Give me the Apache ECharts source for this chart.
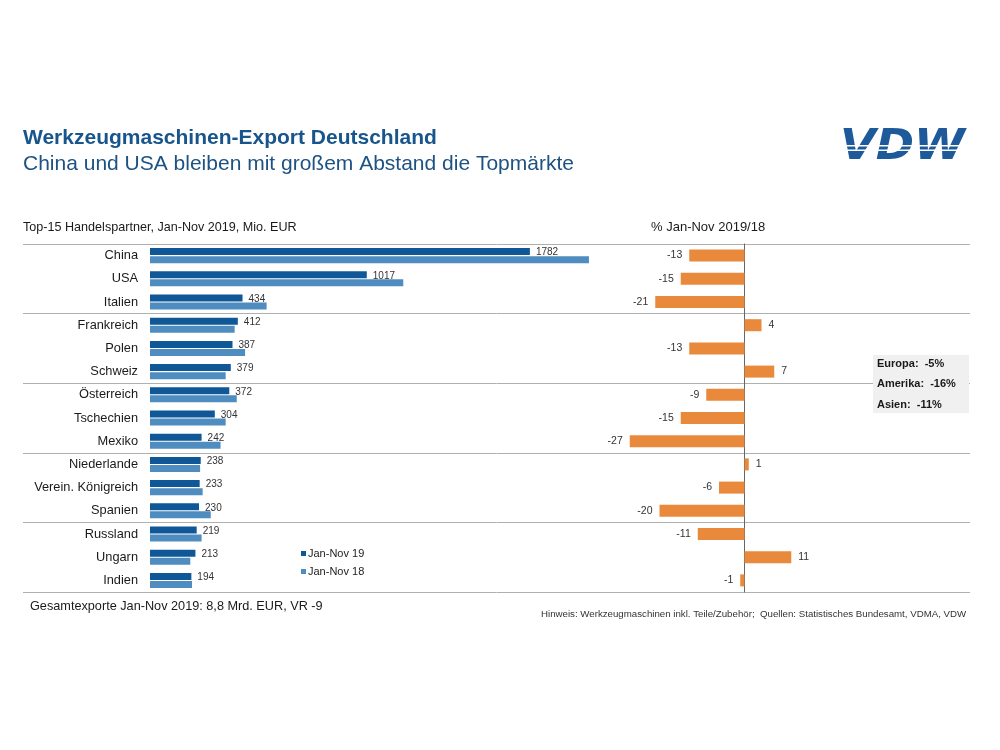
<!DOCTYPE html>
<html>
<head>
<meta charset="utf-8">
<script src="https://cdn.jsdelivr.net/npm/echarts@6/dist/echarts.min.js"></script>
<style>html,body{margin:0;padding:0;background:#fff}#c{width:1000px;height:750px}</style>
</head>
<body>
<div id="c"></div>
<script>
const categories = ['China','USA','Italien','Frankreich','Polen','Schweiz','Österreich','Tschechien','Mexiko','Niederlande','Verein. Königreich','Spanien','Russland','Ungarn','Indien'];
const export2019 = [1782,1017,434,412,387,379,372,304,242,238,233,230,219,213,194];
const export2018 = [2059,1188,547,397,446,355,407,355,331,235,247,285,242,189,197];
const change = [-13,-15,-21,4,-13,7,-9,-15,-27,1,-6,-20,-11,11,-1];
const regionNotes = ['Europa:  -5%','Amerika:  -16%','Asien:  -11%'];
const separatorTicks = {min:0, max:15, interval:3};

const FONT = 'Liberation Sans, Arial, sans-serif';
const chart = echarts.init(document.getElementById('c'), null, {renderer:'canvas'});

const option = {
  backgroundColor:'#fff',
  animation:false,
  textStyle:{fontFamily:FONT},
  grid:[
    {left:150, top:244, width:469, height:348},
    {left:617, top:244, width:255, height:348},
    {left:23, top:244, width:947, height:348}
  ],
  xAxis:[
    {gridIndex:0, type:'value', min:0, max:2200, show:false},
    {gridIndex:1, type:'value', min:-30, max:30, show:false},
    {gridIndex:2, type:'value', min:0, max:1, show:false}
  ],
  yAxis:[
    {gridIndex:0, type:'category', data:categories, inverse:true,
     axisLine:{show:false}, axisTick:{show:false},
     axisLabel:{margin:12, fontSize:12.8, color:'#1a1a1a', fontFamily:FONT}},
    {gridIndex:1, type:'category', data:categories, inverse:true,
     axisLine:{show:true, onZero:true, lineStyle:{color:'#666', width:1}}, axisTick:{show:false},
     axisLabel:{show:false}},
    {gridIndex:2, type:'value', inverse:true, min:separatorTicks.min, max:separatorTicks.max, interval:separatorTicks.interval,
     axisLine:{show:false}, axisTick:{show:false}, axisLabel:{show:false},
     splitLine:{show:true, lineStyle:{color:'#b0b0b0', width:1}}}
  ],
  legend:{
    data:['Jan-Nov 19','Jan-Nov 18'], orient:'vertical', left:296, top:543,
    itemWidth:5, itemHeight:5, itemGap:7, icon:'rect',
    textStyle:{fontSize:11, color:'#222', fontFamily:FONT, padding:[0,0,0,-3]}
  },
  series:[
    {name:'Jan-Nov 19', type:'bar', xAxisIndex:0, yAxisIndex:0, data:export2019,
     barWidth:7, barGap:'15%', itemStyle:{color:'#0f5796'},
     label:{show:true, position:'right', distance:6, offset:[0,1], fontSize:10, color:'#333', fontFamily:FONT}},
    {name:'Jan-Nov 18', type:'bar', xAxisIndex:0, yAxisIndex:0, data:export2018,
     barWidth:7, barGap:'15%', itemStyle:{color:'#4f8cc0'}},
    {name:'Veränderung', type:'bar', xAxisIndex:1, yAxisIndex:1, data:change,
     barWidth:12, itemStyle:{color:'#e8893c'},
     label:{show:true, position:'right', distance:7, fontSize:10.5, color:'#333', fontFamily:FONT,
       formatter:p=>String(p.value)}}
  ],
  graphic:[
    {type:'text', left:23, top:128, style:{text:'Werkzeugmaschinen-Export Deutschland', font:'bold 21px '+FONT, fill:'#17558c'}},
    {type:'text', left:23, top:154, style:{text:'China und USA bleiben mit großem Abstand die Topmärkte', font:'21px '+FONT, fill:'#1d5282'}},
    {type:'text', left:23, top:221, style:{text:'Top-15 Handelspartner, Jan-Nov 2019, Mio. EUR', font:'12.6px '+FONT, fill:'#1a1a1a'}},
    {type:'text', left:651, top:221, style:{text:'% Jan-Nov 2019/18', font:'13px '+FONT, fill:'#1a1a1a'}},
    {type:'rect', shape:{x:873, y:355, width:96, height:58}, style:{fill:'#f0f0f0'}, z:10},
    {type:'text', left:877, top:358, z:11, style:{text:regionNotes[0], font:'bold 11px '+FONT, fill:'#1a1a1a'}},
    {type:'text', left:877, top:378, z:11, style:{text:regionNotes[1], font:'bold 11px '+FONT, fill:'#1a1a1a'}},
    {type:'text', left:877, top:399, z:11, style:{text:regionNotes[2], font:'bold 11px '+FONT, fill:'#1a1a1a'}},
    {type:'text', left:30, top:600, style:{text:'Gesamtexporte Jan-Nov 2019: 8,8 Mrd. EUR, VR -9', font:'12.7px '+FONT, fill:'#1a1a1a'}},
    {type:'text', left:541, top:609, style:{text:'Hinweis: Werkzeugmaschinen inkl. Teile/Zubehör;  Quellen: Statistisches Bundesamt, VDMA, VDW', font:'9.7px '+FONT, fill:'#333'}},
    {type:'text', x:840, y:127, scaleX:1.1, z:5, style:{text:'VDW', x:0, y:0, font:'italic bold 42px DejaVu Sans, sans-serif', fill:'#1e5a9a'}},
    {type:'rect', z:6, shape:{x:835, y:145, width:140, height:1.5}, style:{fill:'#fff'}},
    {type:'rect', z:6, shape:{x:835, y:149.5, width:140, height:1.5}, style:{fill:'#fff'}}
  ]
};
// negative labels go to the left
option.series[2].data = change.map(v => ({value:v, label:{position: v < 0 ? 'left' : 'right'}}));
chart.setOption(option);
</script>
</body>
</html>
